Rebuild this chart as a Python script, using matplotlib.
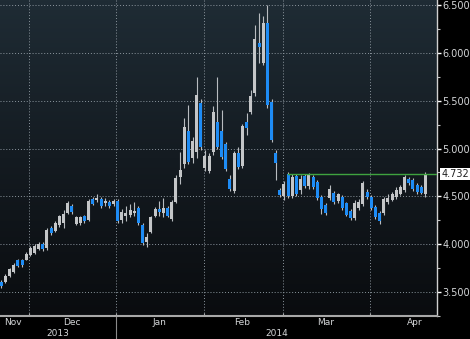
import numpy as np
import pandas as pd
import matplotlib
matplotlib.use("Agg")
import matplotlib.pyplot as plt
from matplotlib.colors import LinearSegmentedColormap

# trading days shown on the chart
holidays = ["2013-12-25", "2014-01-01", "2014-01-20", "2014-02-17"]
dates = pd.bdate_range("2013-11-21", "2014-04-18", freq="C", holidays=holidays)

opens = [3.61, 3.61, 3.67, 3.71, 3.83, 3.83, 3.84, 3.89, 3.91, 3.95,
         4.00, 3.96, 4.17, 4.14, 4.20, 4.22, 4.33, 4.40, 4.21, 4.22,
         4.29, 4.25, 4.47, 4.46, 4.47, 4.43, 4.44, 4.42, 4.45, 4.25,
         4.30, 4.31, 4.33, 4.38, 4.20, 4.02, 4.13, 4.29, 4.37, 4.33,
         4.38, 4.26, 4.44, 4.70, 4.84, 5.18, 4.90, 4.96, 5.48, 4.80,
         4.77, 4.96, 5.28, 5.18, 5.05, 4.68, 4.56, 4.95, 4.82, 5.28,
         5.38, 5.58, 6.10, 5.89, 6.31, 5.49, 4.95, 4.57, 4.50, 4.73,
         4.50, 4.71, 4.57, 4.71, 4.61, 4.70, 4.65, 4.49, 4.41, 4.48,
         4.54, 4.45, 4.49, 4.43, 4.35, 4.27, 4.38, 4.42, 4.55, 4.49,
         4.39, 4.33, 4.33, 4.44, 4.46, 4.49, 4.53, 4.57, 4.68, 4.67,
         4.62, 4.60, 4.52]
highs = [3.63, 3.69, 3.75, 3.80, 3.85, 3.85, 3.92, 3.98, 4.00, 4.02,
         4.02, 4.17, 4.19, 4.24, 4.31, 4.36, 4.45, 4.42, 4.30, 4.30,
         4.31, 4.47, 4.49, 4.53, 4.49, 4.48, 4.46, 4.47, 4.47, 4.37,
         4.40, 4.42, 4.44, 4.40, 4.22, 4.12, 4.30, 4.39, 4.45, 4.48,
         4.40, 4.46, 4.72, 4.96, 5.32, 5.45, 5.12, 5.75, 5.52, 4.98,
         4.95, 5.44, 5.75, 5.40, 5.07, 4.72, 4.97, 5.02, 5.26, 5.37,
         5.61, 6.29, 6.42, 6.38, 6.50, 5.52, 4.98, 4.59, 4.66, 4.75,
         4.73, 4.73, 4.72, 4.73, 4.74, 4.72, 4.67, 4.51, 4.43, 4.62,
         4.56, 4.54, 4.51, 4.44, 4.37, 4.46, 4.47, 4.66, 4.58, 4.51,
         4.41, 4.35, 4.49, 4.52, 4.55, 4.60, 4.62, 4.72, 4.70, 4.69,
         4.64, 4.62, 4.75]
lows = [3.54, 3.60, 3.66, 3.70, 3.76, 3.76, 3.83, 3.88, 3.90, 3.94,
        3.93, 3.94, 4.10, 4.13, 4.18, 4.17, 4.32, 4.32, 4.20, 4.20,
        4.22, 4.24, 4.41, 4.44, 4.38, 4.40, 4.38, 4.40, 4.22, 4.22,
        4.24, 4.28, 4.30, 4.20, 3.99, 3.97, 4.12, 4.28, 4.30, 4.28,
        4.28, 4.24, 4.43, 4.63, 4.80, 4.84, 4.85, 4.90, 4.98, 4.76,
        4.74, 4.93, 4.99, 4.89, 4.77, 4.56, 4.54, 4.79, 4.80, 5.14,
        5.36, 5.55, 5.89, 5.87, 5.42, 5.07, 4.67, 4.49, 4.46, 4.48,
        4.48, 4.50, 4.53, 4.59, 4.58, 4.58, 4.46, 4.32, 4.31, 4.46,
        4.42, 4.43, 4.36, 4.29, 4.25, 4.25, 4.36, 4.40, 4.47, 4.36,
        4.26, 4.21, 4.31, 4.42, 4.45, 4.47, 4.51, 4.55, 4.62, 4.56,
        4.53, 4.52, 4.49]
closes = [3.56, 3.67, 3.74, 3.78, 3.77, 3.78, 3.90, 3.96, 3.98, 4.00,
          3.95, 4.15, 4.12, 4.22, 4.29, 4.32, 4.43, 4.34, 4.28, 4.28,
          4.24, 4.45, 4.42, 4.48, 4.40, 4.45, 4.40, 4.45, 4.24, 4.34,
          4.33, 4.36, 4.35, 4.22, 4.01, 4.08, 4.28, 4.37, 4.34, 4.38,
          4.30, 4.44, 4.69, 4.78, 5.22, 4.86, 5.08, 5.56, 5.02, 4.92,
          4.92, 5.38, 5.02, 4.91, 4.79, 4.58, 4.95, 4.81, 5.24, 5.21,
          5.55, 6.14, 6.06, 6.31, 5.45, 5.09, 4.85, 4.51, 4.63, 4.50,
          4.70, 4.52, 4.68, 4.61, 4.73, 4.60, 4.48, 4.37, 4.33, 4.58,
          4.44, 4.52, 4.38, 4.31, 4.27, 4.43, 4.44, 4.64, 4.49, 4.38,
          4.28, 4.24, 4.47, 4.48, 4.53, 4.57, 4.60, 4.70, 4.64, 4.58,
          4.55, 4.54, 4.732]

line_start = "2014-03-04"
yticks = [3.5, 4.0, 4.5, 5.0, 5.5, 6.0, 6.5]

up_col = "#c4c6c8"
dn_col = "#1e8cf5"
wick_col = "#b8bcc0"
txt_col = "#d4d6d8"

o = np.array(opens); h = np.array(highs); l = np.array(lows); c = np.array(closes)
x = np.arange(len(dates))
up = c >= o

fig = plt.figure(figsize=(4.7, 3.39), dpi=100, facecolor="black")
ax = fig.add_axes([0, 23 / 339, 437 / 470, 316 / 339])
ax.set_facecolor("black")

# background gradient
cmap = LinearSegmentedColormap.from_list("bg", ["#1f2c35", "#141b21", "#0a0c0f"])
ax.imshow(np.linspace(0, 1, 256).reshape(-1, 1), cmap=cmap, aspect="auto",
          extent=[0, 1, 0, 1], transform=ax.transAxes, zorder=0)

# candles
ax.vlines(x, l, h, color=wick_col, lw=0.8, zorder=3)
body = np.maximum(np.abs(c - o), 0.012)
ax.bar(x[up], body[up], bottom=np.minimum(o, c)[up], width=0.72,
       color=up_col, zorder=4, lw=0)
ax.bar(x[~up], body[~up], bottom=np.minimum(o, c)[~up], width=0.72,
       color=dn_col, zorder=4, lw=0)

ax.set_xlim(-0.3, 104.8)
ax.set_ylim(3.25, 6.552)

# month boundaries
months = dates.to_period("M")
first_idx = [i for i in range(1, len(dates)) if months[i] != months[i - 1]]
bounds = [i - 0.3 for i in first_idx]
ax.set_xticks(bounds)
ax.set_xticklabels([])
ax.tick_params(axis="x", direction="in", length=2, color="#a8a8a8")

ax.yaxis.tick_right()
ax.set_yticks(yticks)
ax.set_yticklabels(["%.3f" % v for v in yticks])
ax.set_yticks(np.arange(3.25, 6.6, 0.25), minor=True)
ax.tick_params(axis="y", which="major", direction="out", length=3, width=1,
               color="white", labelcolor=txt_col, labelsize=7, pad=1)
ax.tick_params(axis="y", which="minor", direction="out", length=2, width=0.8,
               color="#c0c0c0")

ax.grid(True, which="major", color="#8c969e", ls=(0, (1, 2)), lw=0.7, zorder=1)

for s in ["top", "left"]:
    ax.spines[s].set_visible(False)
ax.spines["right"].set_color("#d0d0d0")
ax.spines["right"].set_linewidth(1.0)
ax.spines["bottom"].set_color("#a8a8a8")
ax.spines["bottom"].set_linewidth(1.5)

# month labels centred on the full month
xt = ax.get_xaxis_transform()
xlo, xhi = ax.get_xlim()
for p in months.unique():
    full = pd.bdate_range(p.start_time, p.end_time, freq="C", holidays=holidays)
    k0 = int(np.where(months == p)[0][0])
    off = full.get_loc(dates[k0])
    start = k0 - off - 0.5
    mid = start + len(full) / 2
    mid = max(mid, xlo + 3.2)
    ax.text(mid, -0.022, p.strftime("%b"), transform=xt, ha="center",
            va="center", fontsize=6.5, color=txt_col, clip_on=False)

# year labels and separator
years = dates.year
yb = [i for i in range(1, len(dates)) if years[i] != years[i - 1]][0] - 0.3
ax.text((xlo + yb) / 2, -0.054, str(years[0]), transform=xt, ha="center",
        va="center", fontsize=6.5, color=txt_col, clip_on=False)
ax.text((yb + xhi) / 2, -0.054, str(years[-1]), transform=xt, ha="center",
        va="center", fontsize=6.5, color=txt_col, clip_on=False)
ax.plot([yb, yb], [0, -23 / 316], transform=xt, color="#8a8a8a", lw=0.8,
        clip_on=False)

# last price line and label
k_line = int(np.where(dates == pd.Timestamp(line_start))[0][0])
ax.plot([k_line, xhi], [closes[-1], closes[-1]], color="#3fa33f", lw=1.0, zorder=5)
ax.annotate("%.3f" % closes[-1], xy=(1.0, closes[-1]),
            xycoords=("axes fraction", "data"), xytext=(3, 0),
            textcoords="offset points", ha="left", va="center", fontsize=7,
            color="#202020",
            bbox=dict(boxstyle="square,pad=0.12", fc="white", ec="none"),
            annotation_clip=False)

fig.savefig("out.png", dpi=100, facecolor="black")
